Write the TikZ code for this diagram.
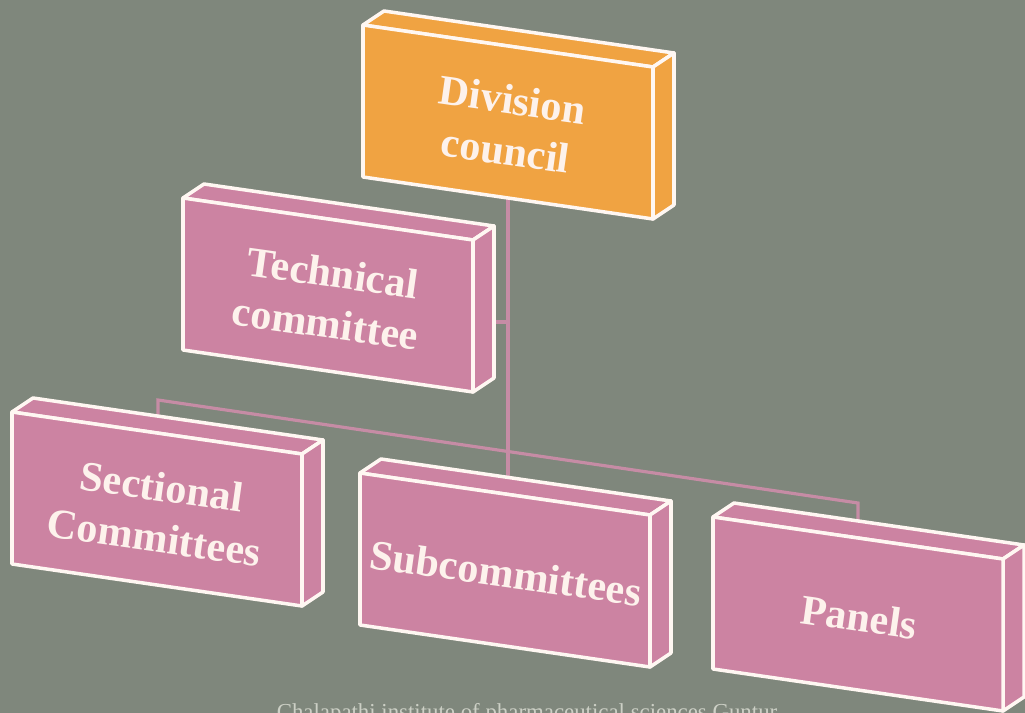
\documentclass[tikz,border=0pt]{standalone}
\usepackage{fontspec}
\setmainfont{Liberation Serif}
\definecolor{bg}{RGB}{127,135,124}
\definecolor{pinkface}{RGB}{204,131,162}
\definecolor{orangeface}{RGB}{240,163,66}
\definecolor{edgew}{RGB}{255,247,242}
\definecolor{connpink}{RGB}{198,140,165}
\definecolor{labeltext}{RGB}{253,242,236}
\definecolor{footc}{RGB}{205,208,198}
\newcommand{\slabbox}[5]{%
  \filldraw[face, fill=#4] (#2,#3) -- (#2+21,#3-14) -- (#2+311,#3+28) -- (#2+290,#3+42) -- cycle;
  \filldraw[face, fill=#4] (#2+290,#3+42) -- (#2+311,#3+28) -- (#2+311,#3+180) -- (#2+290,#3+194) -- cycle;
  \filldraw[face, fill=#4] (#2,#3) -- (#2+290,#3+42) -- (#2+290,#3+194) -- (#2,#3+152) -- cycle;
  \node[lbl] (#1) at (#2+146,#3+100) {#5};%
}
\begin{document}
\begin{tikzpicture}[x=0.02cm,y=-0.02cm,
  face/.style={draw=edgew, line width=2pt, line join=round},
  conn/.style={draw=connpink, line width=1.8pt},
  lbl/.style={text=labeltext, font=\bfseries\fontsize{24}{29}\selectfont, align=center, rotate=-8, inner sep=0pt}]
\useasboundingbox (0,0) rectangle (1025,713);
\clip (0,0) rectangle (1025,713);
\fill[bg] (0,0) rectangle (1025,713);
% connector end points
\coordinate (div-bot) at (508,195);
\coordinate (sub-top) at (508,478);
\coordinate (tec-side) at (490,322);
\coordinate (tec-join) at (508,322);
\coordinate (sec-top) at (158,418);
\coordinate (sec-bend) at (158,400);
\coordinate (pan-bend) at (858,503);
\coordinate (pan-top) at (858,522);
% connectors
\draw[conn] (div-bot) -- (sub-top);
\draw[conn] (tec-side) -- (tec-join);
\draw[conn] (sec-top) -- (sec-bend) -- (pan-bend) -- (pan-top);
% boxes
\slabbox{div}{363}{25}{orangeface}{Division\\council}
\slabbox{tec}{183}{198}{pinkface}{Technical\\committee}
\slabbox{sec}{12}{412}{pinkface}{Sectional\\Committees}
\slabbox{sub}{360}{473}{pinkface}{Subcommittees}
\slabbox{pan}{713}{517}{pinkface}{Panels}
% footer
\node[font=\fontsize{13}{15}\selectfont, text=footc, anchor=base] (footer) at (527,719) {Chalapathi institute of pharmaceutical sciences Guntur};
\end{tikzpicture}
\end{document}
